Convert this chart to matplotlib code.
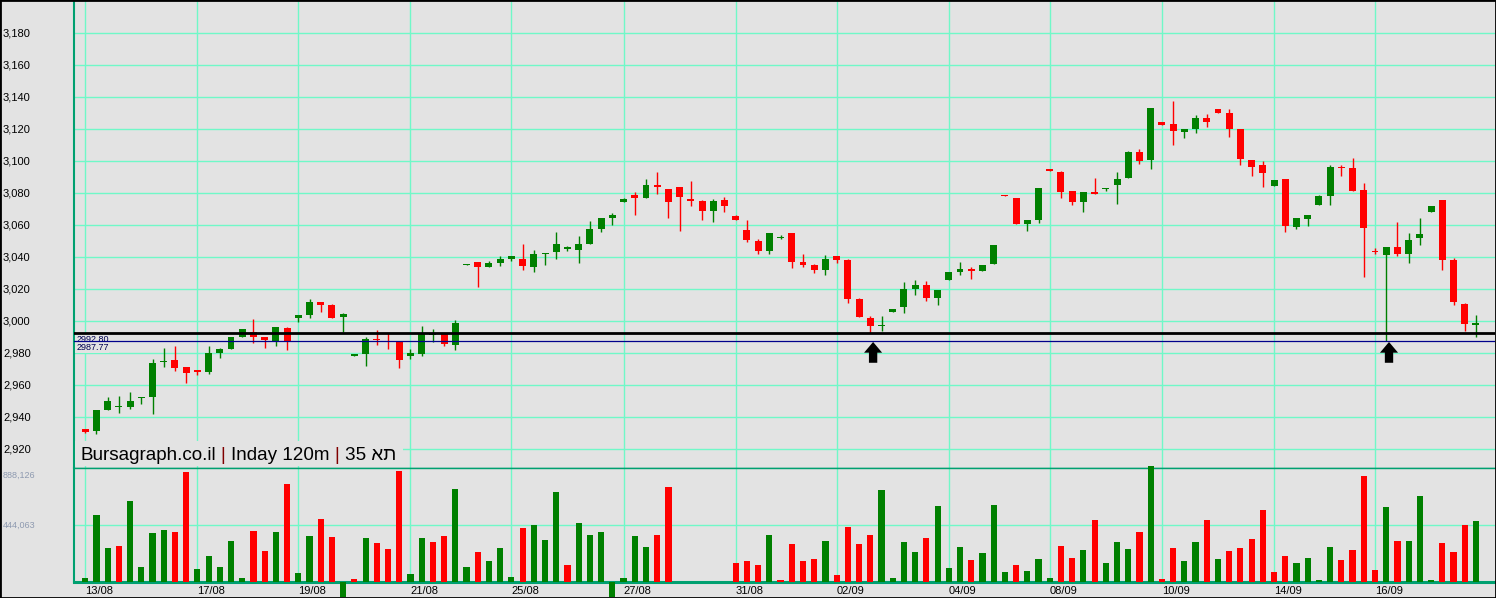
import matplotlib
matplotlib.use('Agg')
import matplotlib.pyplot as plt
import matplotlib.transforms as mtransforms
from matplotlib.patches import Rectangle
import numpy as np

# 120 minute candles
opens = [2932.7, 2931.4, 2944.8, 2946.6, 2946.6, 2952.5, 2952.9, 2974.4, 2975.8, 2971.4,
         2969.6, 2968.5, 2980.4, 2982.9, 2990.4, 2993.3, 2990.0, 2987.3, 2995.6, 3002.3,
         3004.1, 3012.1, 3010.2, 3002.9, 2978.8, 2979.8, 2988.9, 2987.9, 2987.1, 2978.5,
         2979.8, 2991.7, 2992.1, 2985.4, 3035.0, 3037.1, 3034.2, 3036.6, 3039.2, 3038.9,
         3034.0, 3042.4, 3043.3, 3045.2, 3044.6, 3048.3, 3057.7, 3064.6, 3074.6, 3078.9,
         3077.1, 3085.4, 3082.7, 3083.9, 3076.4, 3075.2, 3068.9, 3075.8, 3065.8, 3057.1,
         3050.2, 3043.9, 3052.1, 3055.2, 3037.1, 3035.2, 3032.1, 3040.8, 3038.3, 3013.9,
         3002.1, 2997.3, 3005.8, 3008.9, 3020.2, 3022.7, 3014.6, 3025.8, 3030.8, 3032.7,
         3031.4, 3035.8, 3078.9, 3077.1, 3060.8, 3063.3, 3095.2, 3093.3, 3081.4, 3074.6,
         3080.8, 3082.7, 3085.2, 3089.6, 3105.8, 3100.8, 3124.6, 3123.3, 3118.3, 3120.2,
         3127.1, 3132.7, 3130.2, 3120.2, 3100.8, 3097.7, 3084.6, 3088.9, 3058.9, 3063.9,
         3072.7, 3078.3, 3096.4, 3095.8, 3082.1, 3043.9, 3041.4, 3046.4, 3042.1, 3052.1,
         3068.3, 3075.8, 3038.3, 3010.8, 2998.1]
highs = [2932.7, 2944.6, 2952.7, 2953.3, 2955.8, 2952.5, 2976.2, 2983.3, 2984.6, 2971.4,
         2969.6, 2984.6, 2983.3, 2990.0, 2995.0, 3001.2, 2990.0, 2996.4, 2996.4, 3003.9,
         3013.9, 3012.1, 3010.8, 3005.2, 2979.6, 2990.0, 2994.6, 2992.9, 2987.1, 2982.7,
         2997.1, 2995.2, 2992.1, 3000.8, 3035.5, 3037.1, 3037.7, 3040.8, 3040.8, 3048.3,
         3044.6, 3042.6, 3055.8, 3047.3, 3053.3, 3062.7, 3064.6, 3067.7, 3077.3, 3080.8,
         3088.9, 3093.3, 3082.7, 3083.9, 3087.7, 3075.8, 3076.4, 3077.7, 3066.4, 3063.3,
         3051.4, 3055.2, 3053.9, 3055.2, 3042.1, 3035.8, 3041.4, 3040.8, 3038.9, 3014.6,
         3003.3, 3003.3, 3007.7, 3024.6, 3025.8, 3025.2, 3019.6, 3030.8, 3037.1, 3033.9,
         3035.2, 3047.7, 3078.9, 3077.1, 3063.3, 3083.3, 3095.2, 3093.9, 3081.4, 3080.8,
         3089.6, 3083.3, 3093.3, 3106.4, 3107.7, 3133.3, 3124.6, 3137.7, 3120.2, 3128.9,
         3129.6, 3132.7, 3132.7, 3120.2, 3100.8, 3100.2, 3088.3, 3088.9, 3064.6, 3066.4,
         3078.9, 3097.7, 3097.7, 3102.1, 3086.4, 3045.6, 3046.4, 3062.1, 3055.2, 3064.6,
         3072.1, 3075.8, 3039.6, 3011.4, 3003.9]
lows = [2930.0, 2929.8, 2944.8, 2942.9, 2945.4, 2948.5, 2942.3, 2971.4, 2969.1, 2961.6,
        2966.7, 2967.3, 2977.3, 2982.9, 2990.4, 2986.6, 2983.5, 2984.8, 2982.3, 2999.8,
        3002.3, 3005.8, 3002.3, 2993.5, 2978.3, 2972.3, 2985.2, 2982.7, 2971.0, 2976.4,
        2978.5, 2987.3, 2984.8, 2982.3, 3035.0, 3021.6, 3034.2, 3034.8, 3037.9, 3032.1,
        3030.8, 3035.2, 3038.9, 3044.2, 3036.4, 3048.3, 3055.8, 3060.2, 3074.6, 3066.4,
        3077.1, 3079.8, 3064.6, 3056.4, 3072.1, 3063.3, 3062.1, 3068.3, 3063.3, 3049.6,
        3042.1, 3042.1, 3051.4, 3033.3, 3034.0, 3030.2, 3028.9, 3036.4, 3011.4, 3002.9,
        2992.8, 2994.0, 3005.8, 3005.2, 3016.4, 3012.7, 3010.2, 3025.8, 3029.0, 3026.4,
        3031.4, 3035.8, 3078.5, 3060.8, 3056.4, 3061.4, 3093.9, 3077.1, 3072.7, 3068.3,
        3079.6, 3081.4, 3073.3, 3089.6, 3098.3, 3095.2, 3122.9, 3110.2, 3114.6, 3117.7,
        3121.4, 3130.2, 3115.2, 3097.7, 3090.8, 3083.9, 3084.6, 3055.8, 3057.7, 3059.6,
        3072.7, 3072.7, 3090.8, 3081.4, 3027.7, 3041.8, 2987.77, 3040.8, 3036.4, 3047.7,
        3068.3, 3032.1, 3010.2, 2994.0, 2990.2]
closes = [2931.0, 2944.6, 2950.2, 2947.1, 2950.2, 2952.6, 2974.0, 2974.8, 2971.0, 2967.9,
          2968.5, 2980.2, 2982.5, 2990.0, 2995.0, 2990.4, 2988.3, 2996.4, 2987.3, 3003.9,
          3012.1, 3010.4, 3002.3, 3004.6, 2979.1, 2988.7, 2988.3, 2987.3, 2976.0, 2980.4,
          2992.9, 2992.3, 2986.0, 2999.0, 3035.5, 3034.2, 3036.4, 3038.9, 3040.8, 3034.8,
          3042.1, 3042.6, 3048.3, 3046.4, 3048.3, 3057.7, 3064.6, 3066.4, 3076.4, 3077.1,
          3085.2, 3084.1, 3074.6, 3077.7, 3075.2, 3068.9, 3075.2, 3072.1, 3063.3, 3050.8,
          3043.9, 3055.2, 3052.7, 3037.1, 3035.2, 3032.1, 3038.9, 3038.3, 3013.9, 3002.9,
          2997.3, 2997.7, 3007.7, 3020.2, 3022.7, 3014.6, 3019.6, 3030.8, 3032.7, 3031.4,
          3035.2, 3047.7, 3078.5, 3060.8, 3063.3, 3083.3, 3093.9, 3080.8, 3074.6, 3080.8,
          3079.6, 3083.3, 3088.9, 3105.8, 3100.2, 3133.3, 3122.9, 3118.9, 3120.2, 3127.1,
          3124.6, 3130.2, 3120.2, 3101.4, 3096.4, 3092.7, 3088.3, 3059.6, 3064.6, 3066.4,
          3078.3, 3096.4, 3095.8, 3081.4, 3058.3, 3043.5, 3046.4, 3042.1, 3050.8, 3054.6,
          3072.1, 3038.3, 3012.1, 2998.3, 2998.5]
volumes = [33000, 522000, 267000, 280000, 631000, 119000, 384000, 405000, 392000, 859000,
           104000, 203000, 119000, 322000, 33000, 400000, 241000, 389000, 766000, 70000,
           358000, 491000, 350000, -120000, 23000, 343000, 304000, 257000, 865000, 62000,
           343000, 312000, 358000, 725000, 117000, 234000, 164000, 265000, 39000, 421000,
           444000, 327000, 701000, 132000, 460000, 366000, 389000, -120000, 31000, 358000,
           273000, 366000, 740000, 0, 0, 0, 0, 0, 148000, 164000,
           132000, 366000, 16000, 296000, 164000, 179000, 319000, 55000, 428000, 296000,
           366000, 717000, 31000, 312000, 234000, 343000, 592000, 109000, 273000, 171000,
           226000, 600000, 78000, 132000, 86000, 179000, 31000, 280000, 187000, 249000,
           483000, 148000, 312000, 257000, 389000, 904000, 23000, 265000, 164000, 312000,
           483000, 179000, 241000, 265000, 335000, 561000, 78000, 203000, 148000, 187000,
           16000, 273000, 171000, 249000, 826000, 93000, 584000, 319000, 319000, 670000,
           16000, 304000, 234000, 444000, 475000]

tick_idx = [0, 10, 19, 29, 38, 48, 58, 67, 77, 86, 96, 106, 115]
tick_labels = ['13/08', '17/08', '19/08', '21/08', '25/08', '27/08', '31/08',
               '02/09', '04/09', '08/09', '10/09', '14/09', '16/09']
price_ticks = list(range(2920, 3181, 20))
vol_ticks = [444063, 888126]
support_levels = [2992.80, 2987.77]
arrow_idx = [70, 116]
# glyphs in the order they appear left to right in the picture
title_parts = ['Bursagraph.co.il', '|', 'Inday 120m', '|', '35 \u05d0\u05ea']

W, H = 1496, 598
BG = '#E3E3E3'
GRID = '#70F8C8'
FRAME = '#00A070'
UP = '#008000'
DOWN = '#FF0000'

plt.rcParams['font.family'] = ['Liberation Sans', 'DejaVu Sans']


def fx(px):
    return px / W


def fy(py):
    return (H - py) / H


fig = plt.figure(figsize=(W / 100, H / 100), dpi=100, facecolor=BG)
ax = fig.add_axes([fx(74), fy(468), fx(1495) - fx(74), fy(1) - fy(468)])
vax = fig.add_axes([fx(74), fy(582), fx(1495) - fx(74), fy(468) - fy(582)], sharex=ax)

for a in (ax, vax):
    a.set_facecolor(BG)
    a.set_axisbelow(True)
    a.tick_params(length=0, labelleft=False, labelbottom=False)
    a.set_xticks(tick_idx)
    a.grid(True, color=GRID, lw=1.0)
    a.spines['right'].set_visible(False)
    a.spines['left'].set_color(FRAME)
    a.spines['left'].set_linewidth(1.5)

ax.set_xlim(-1.0, 125.7)
ax.set_ylim(2908.3, 3200.2)
ax.set_yticks(price_ticks)
ax.spines['top'].set_visible(False)
ax.spines['bottom'].set_color(FRAME)
ax.spines['bottom'].set_linewidth(1.0)

vax.set_ylim(0, vol_ticks[1])
vax.set_yticks(vol_ticks[:1])
vax.spines['top'].set_color(FRAME)
vax.spines['top'].set_linewidth(1.0)
vax.spines['bottom'].set_color(FRAME)
vax.spines['bottom'].set_linewidth(2.2)

# candles
x = np.arange(len(opens))
o = np.array(opens)
c = np.array(closes)
cols = np.where(c >= o, UP, DOWN)
body_h = np.maximum(np.abs(c - o), 0.7)
body_bottom = (o + c) / 2 - body_h / 2
ax.vlines(x, lows, highs, colors=cols, lw=1.0, zorder=3)
ax.bar(x, body_h, bottom=body_bottom, width=0.62, color=cols, lw=0, zorder=4)

# volume coloured by close vs previous close
vcols = [UP] + [UP if closes[i] >= closes[i - 1] else DOWN for i in range(1, len(closes))]
vax.bar(x, volumes, width=0.55, color=vcols, lw=0, zorder=3, clip_on=False)

# support lines and labels
line_cols = ['black', '#00008B']
line_w = [2.0, 0.9]
for lvl, lc, lw in zip(support_levels, line_cols, line_w):
    ax.axhline(lvl, color=lc, lw=lw, zorder=5)
    ax.annotate(f'{lvl:.2f}', xy=(0.0015, lvl), xycoords=('axes fraction', 'data'),
                xytext=(0, -1.5), textcoords='offset points', ha='left', va='top',
                fontsize=6.5, color='#000050', zorder=4.5,
                bbox=dict(facecolor=BG, edgecolor='none', pad=0.6))

tip = min(support_levels) - 0.7
for i in arrow_idx:
    ax.annotate('', xy=(i + 0.25, tip), xytext=(i + 0.25, tip - 13),
                arrowprops=dict(arrowstyle='simple,head_length=0.77,head_width=1.3,tail_width=0.6',
                                fc='black', ec='none', shrinkA=0, shrinkB=0, mutation_scale=10),
                zorder=6)

# axis labels
ptrans = mtransforms.blended_transform_factory(fig.transFigure, ax.transData)
for v in price_ticks:
    ax.text(fx(3), v, f'{v:,}', transform=ptrans, ha='left', va='center',
            fontsize=8, color='black', clip_on=False)

vtrans = mtransforms.blended_transform_factory(fig.transFigure, vax.transData)
vax.annotate(f'{vol_ticks[1]:,}', xy=(fx(3), vol_ticks[1]), xycoords=vtrans,
             xytext=(0, -5.5), textcoords='offset points', ha='left', va='center',
             fontsize=6.5, color='#8E9AB0', annotation_clip=False)
vax.text(fx(3), vol_ticks[0], f'{vol_ticks[0]:,}', transform=vtrans, ha='left', va='center',
         fontsize=6.5, color='#8E9AB0', clip_on=False)

dtrans = mtransforms.blended_transform_factory(vax.transData, fig.transFigure)
for i, lab in zip(tick_idx, tick_labels):
    vax.text(i, fy(591), lab, transform=dtrans, ha='left', va='center',
             fontsize=8, color='black', clip_on=False)

# title, pieces chained so the separators can be coloured
TS = 13.6
r = fig.canvas.get_renderer()


def width_of(s):
    t = fig.text(0, 0, s, fontsize=TS)
    w = t.get_window_extent(r).width
    t.remove()
    return w


gap = width_of('I I') - width_of('II')
xpos = 80
for part in title_parts:
    col = '#800000' if part == '|' else 'black'
    t = fig.text(fx(xpos), fy(456), part, color=col, fontsize=TS, ha='left', va='center', zorder=3)
    xpos = t.get_window_extent(r).x1 + gap
fig.add_artist(Rectangle((fx(75), fy(466)), fx(xpos + 2) - fx(75), fy(441) - fy(466),
                         transform=fig.transFigure, facecolor=BG, edgecolor='none', zorder=2))

fig.add_artist(Rectangle((0, 0), 1, 1, transform=fig.transFigure, fill=False,
                         edgecolor='black', lw=2, zorder=10))

fig.savefig('out.png', dpi=100, facecolor=BG)
